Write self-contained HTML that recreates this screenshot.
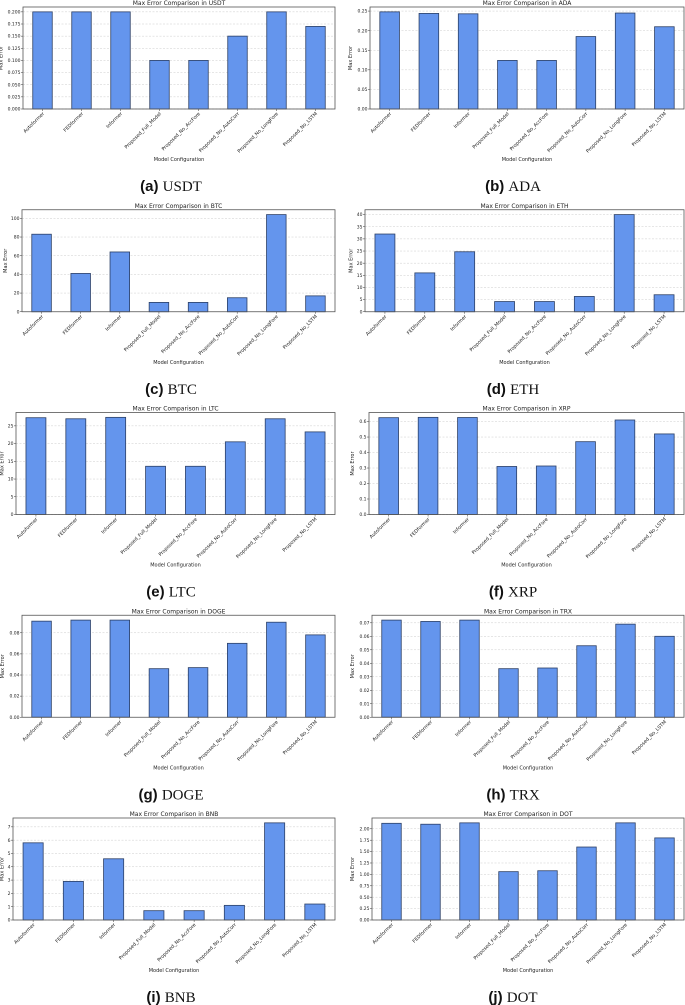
<!DOCTYPE html>
<html><head><meta charset="utf-8">
<style>
html,body{margin:0;padding:0;background:#fff;}
svg{display:block;font-family:"DejaVu Sans","Liberation Sans",sans-serif;}
.cap{font-size:15px;}
</style></head>
<body>
<svg id="fig" width="685" height="1005" viewBox="0 0 685 1005" xmlns="http://www.w3.org/2000/svg"></svg>
<script>
const categories = ["Autoformer","FEDformer","Informer","Proposed_Full_Model","Proposed_No_AccFore","Proposed_No_AutoCorr","Proposed_No_LongFore","Proposed_No_LSTM"];
const coinNames = ["USDT","ADA","BTC","ETH","LTC","XRP","DOGE","TRX","BNB","DOT"];
const letters = ["a","b","c","d","e","f","g","h","i","j"];
const valsUSDT = [0.2,0.2,0.2,0.1,0.1,0.15,0.2,0.17];
const valsADA = [0.248,0.244,0.243,0.124,0.124,0.185,0.245,0.21];
const valsBTC = [83,41,64,10,10,15,104,17];
const valsETH = [32,16,24.7,4.2,4.2,6.3,40,7];
const valsLTC = [27.3,27,27.4,13.6,13.6,20.5,27,23.3];
const valsXRP = [0.625,0.627,0.626,0.31,0.313,0.47,0.61,0.52];
const valsDOGE = [0.091,0.092,0.092,0.046,0.047,0.07,0.09,0.078];
const valsTRX = [0.072,0.071,0.072,0.036,0.0365,0.053,0.069,0.060];
const valsBNB = [5.8,2.9,4.6,0.7,0.7,1.1,7.3,1.2];
const valsDOT = [2.12,2.1,2.13,1.06,1.08,1.6,2.13,1.8];
const ticksUSDT = ["0.000","0.025","0.050","0.075","0.100","0.125","0.150","0.175","0.200"];
const ticksADA = ["0.00","0.05","0.10","0.15","0.20","0.25"];
const ticksBTC = ["0","20","40","60","80","100"];
const ticksETH = ["0","5","10","15","20","25","30","35","40"];
const ticksLTC = ["0","5","10","15","20","25"];
const ticksXRP = ["0.0","0.1","0.2","0.3","0.4","0.5","0.6"];
const ticksDOGE = ["0.00","0.02","0.04","0.06","0.08"];
const ticksTRX = ["0.00","0.01","0.02","0.03","0.04","0.05","0.06","0.07"];
const ticksBNB = ["0","1","2","3","4","5","6","7"];
const ticksDOT = ["0.00","0.25","0.50","0.75","1.00","1.25","1.50","1.75","2.00"];

const allVals=[valsUSDT,valsADA,valsBTC,valsETH,valsLTC,valsXRP,valsDOGE,valsTRX,valsBNB,valsDOT];
const allTicks=[ticksUSDT,ticksADA,ticksBTC,ticksETH,ticksLTC,ticksXRP,ticksDOGE,ticksTRX,ticksBNB,ticksDOT];
const lefts=[23,370,22,365,16,369,22,372,13,372];
const NS="http://www.w3.org/2000/svg";
const svg=document.getElementById('fig');
function mk(tag,attrs,parent,text){const e=document.createElementNS(NS,tag);for(const k in attrs)e.setAttribute(k,attrs[k]);if(text!==undefined)e.textContent=text;(parent||svg).appendChild(e);return e;}

for(let p=0;p<10;p++){
  const col=p%2,row=Math.floor(p/2);
  const top=7+row*202.75, bottom=109+row*202.75;
  const L=lefts[p], R=col?684:335;
  const vals=allVals[p], ticks=allTicks[p];
  const ymax=Math.max(...vals)*1.05;
  const y=v=>bottom-(v/ymax)*(bottom-top);
  const slot=(R-L)/8;
  const x=i=>L+slot*(i+0.5);
  const g=mk('g',{});
  
  
  ticks.forEach(t=>{
    const yy=y(parseFloat(t));
    if(yy<top-0.5)return;
    const gl=mk('line',{x1:L,x2:R,y1:yy,y2:yy,stroke:'#ccc','stroke-width':0.5,'stroke-dasharray':'2,1.5'},g);
    
    
    mk('line',{x1:L-2,x2:L,y1:yy,y2:yy,stroke:'#333','stroke-width':0.5},g);
    const tl=mk('text',{x:L-2.5,y:yy+1.6,'font-size':4.5,'text-anchor':'end',fill:'#222'},g,t);
    
    
  });
  vals.forEach((v,i)=>{
    const b=mk('rect',{x:x(i)-slot/4,y:y(v),width:slot/2,height:bottom-y(v),fill:'#6495ED',stroke:'#2b3f66','stroke-width':0.8},g);
    
    
    mk('line',{x1:x(i),x2:x(i),y1:bottom,y2:bottom+2,stroke:'#333','stroke-width':0.5},g);
    const xl=mk('text',{x:0,y:0,'font-size':4.8,'text-anchor':'end',fill:'#222',transform:`translate(${x(i)+2},${bottom+5}) rotate(-45)`},g,categories[i]);
    
    
  });
  const fr=mk('rect',{x:L,y:top,width:R-L,height:bottom-top,fill:'none',stroke:'#555','stroke-width':0.8},g);
  
  
  const ti=mk('text',{x:(L+R)/2,y:top-2,'font-size':6,'text-anchor':'middle',fill:'#222'},g,'Max Error Comparison in '+coinNames[p]);
  
  
  const off=ticks[ticks.length-1].length*2.7+7;
  const yl=mk('text',{x:0,y:0,'font-size':5,'text-anchor':'middle',fill:'#222',transform:`translate(${L-off},${(top+bottom)/2}) rotate(-90)`},g,'Max Error');
  
  
  const xt=mk('text',{x:(L+R)/2,y:bottom+52,'font-size':5,'text-anchor':'middle',fill:'#222'},g,'Model Configuration');
  
  
  const cx=col?513:171;
  const cap=mk('text',{x:cx,y:bottom+82,'text-anchor':'middle',class:'cap',fill:'#111'},g);
  
  
  mk('tspan',{'font-family':'"Liberation Sans",sans-serif','font-weight':'bold'},cap,'('+letters[p]+') ');
  mk('tspan',{'font-family':'"Liberation Serif",serif'},cap,coinNames[p]);
}
</script>
</body></html>
